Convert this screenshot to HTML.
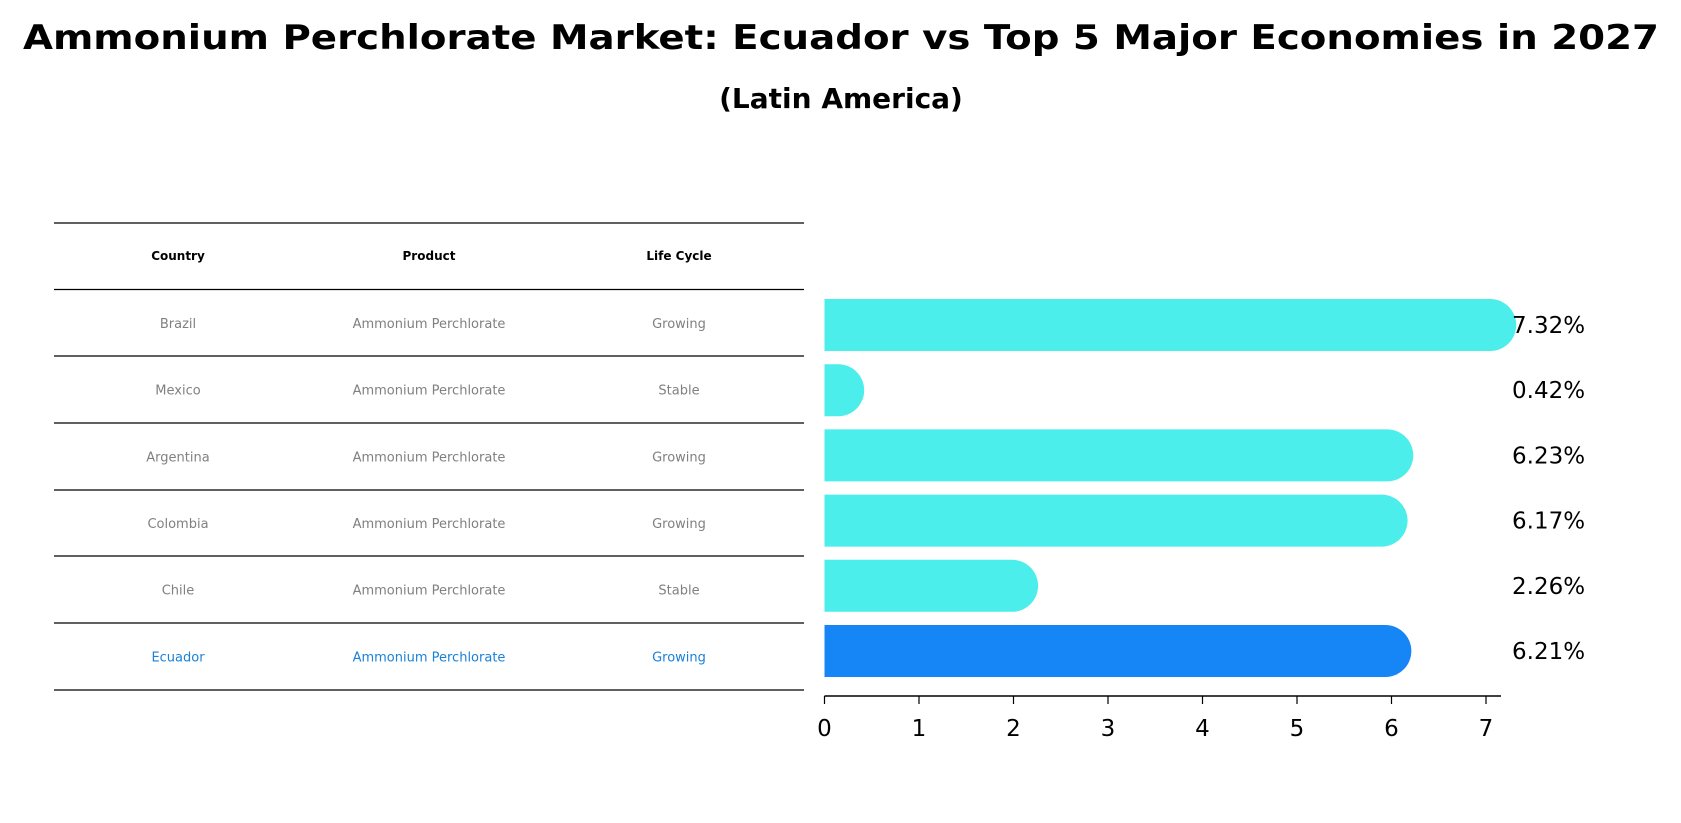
<!DOCTYPE html>
<html><head><meta charset="utf-8"><style>
body{margin:0;background:#fff;}
svg{display:block;font-family:"DejaVu Sans","Liberation Sans",sans-serif;}
</style></head><body>
<svg width="1681" height="823" viewBox="0 0 1681 823">
<text x="841" y="49" text-anchor="middle" font-size="34" font-weight="bold" textLength="1636" lengthAdjust="spacingAndGlyphs">Ammonium Perchlorate Market: Ecuador vs Top 5 Major Economies in 2027</text>
<text x="841" y="108" text-anchor="middle" font-size="28" font-weight="bold">(Latin America)</text>
<g id="table"></g>
<g id="bars"></g>
</svg>
<script>
const countries=["Brazil","Mexico","Argentina","Colombia","Chile","Ecuador"];
const products=["Ammonium Perchlorate","Ammonium Perchlorate","Ammonium Perchlorate","Ammonium Perchlorate","Ammonium Perchlorate","Ammonium Perchlorate"];
const lifecycle=["Growing","Stable","Growing","Growing","Stable","Growing"];
const values=[7.32,0.42,6.23,6.17,2.26,6.21];
const ticks=[0,1,2,3,4,5,6,7];
const NS="http://www.w3.org/2000/svg";
function mk(tag,attrs,parent){const e=document.createElementNS(NS,tag);for(const k in attrs)e.setAttribute(k,attrs[k]);parent.appendChild(e);return e;}
const tbl=document.getElementById('table');
const lineY=[223,289.5,356,423,490,556,623,690];
const colX=[178,429,679];
lineY.forEach(y=>{const l=mk('line',{x1:54,x2:804,y1:y,y2:y,stroke:'#000','stroke-width':1.2},tbl);

});
["Country","Product","Life Cycle"].forEach((h,i)=>{const t=mk('text',{x:colX[i],y:260,'text-anchor':'middle','font-size':12,'font-weight':'bold'},tbl);t.textContent=h;

});
countries.forEach((c,r)=>{const y=(lineY[r+1]+lineY[r+2])/2+5;const col=r===5?'#1a80d9':'#808080';
[c,products[r],lifecycle[r]].forEach((v,i)=>{const t=mk('text',{x:colX[i],y:y,'text-anchor':'middle','font-size':13,fill:col},tbl);t.textContent=v;

});});
const g=document.getElementById('bars');
const x0=824.5,unit=94.5,axisY=696,bh=52;
const xs=v=>x0+v*unit;
const yc=i=>325+i*65.2;
values.forEach((v,i)=>{const w=xs(v)-x0,y=yc(i)-bh/2,r=bh/2;const col=i===5?'#1685f5':'#4beeea';
let d;if(w>r){d=`M${x0},${y}H${x0+w-r}A${r},${r} 0 0 1 ${x0+w-r},${y+bh}H${x0}Z`;}else{d=`M${x0},${y}H${x0+w}V${y+bh}H${x0}Z`;}
const p=mk('path',{d:d,fill:col},g);


const t=mk('text',{x:1512,y:yc(i)+8,'font-size':23},g);t.textContent=v.toFixed(2)+'%';

});
const ax=mk('line',{x1:x0,x2:1501,y1:axisY,y2:axisY,stroke:'#000','stroke-width':1.5},g);


ticks.forEach(tv=>{const tk=mk('line',{x1:xs(tv),x2:xs(tv),y1:axisY,y2:axisY+8,stroke:'#000','stroke-width':1.2},g);


const t=mk('text',{x:xs(tv),y:736,'text-anchor':'middle','font-size':23},g);t.textContent=tv;

});
</script>
</body></html>
